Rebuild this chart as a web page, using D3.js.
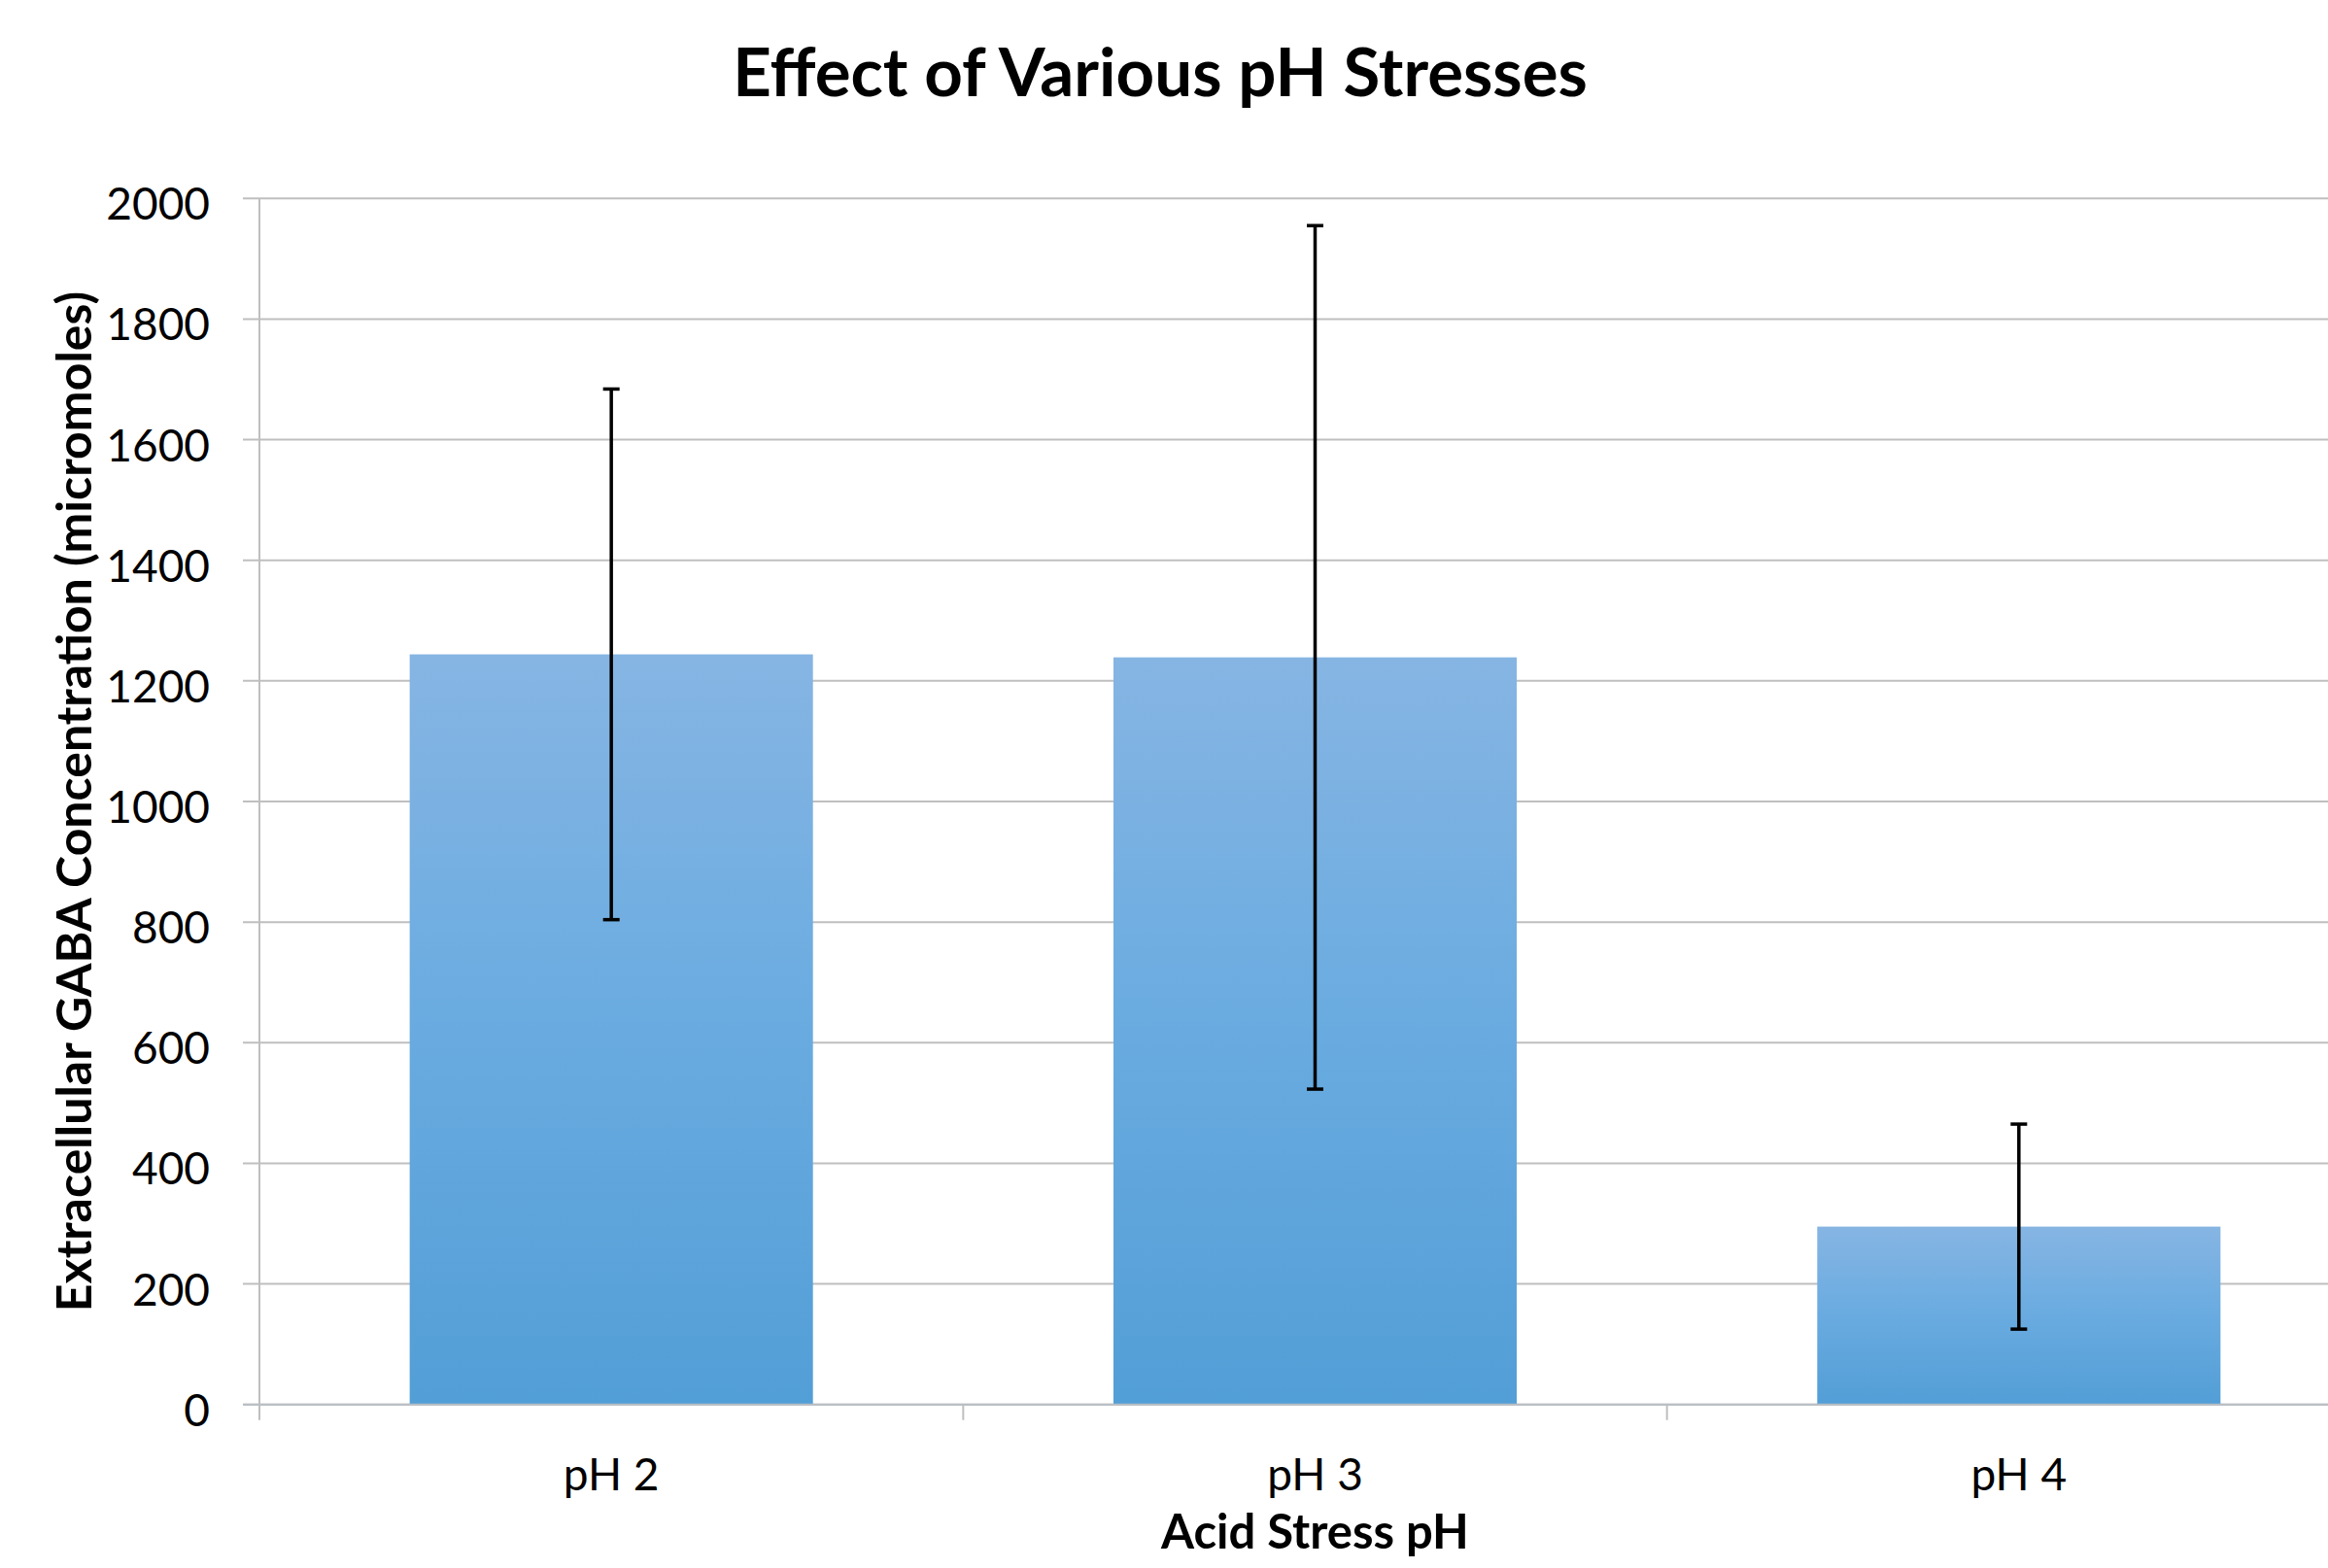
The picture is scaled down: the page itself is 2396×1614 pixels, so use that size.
<!DOCTYPE html>
<html>
<head>
<meta charset="utf-8">
<script src="https://cdn.jsdelivr.net/npm/d3@7"></script>
<style>
  html, body { margin: 0; padding: 0; background: #ffffff; }
  svg { display: block; font-family: Lato, "Open Sans", sans-serif; }
</style>
</head>
<body>
<svg></svg>
<script>
var categories = ["pH 2", "pH 3", "pH 4"];
var means = [1244, 1239, 295];
var errors = [440, 716, 170];
var yTicks = [0, 200, 400, 600, 800, 1000, 1200, 1400, 1600, 1800, 2000];

var svgWidth = 2396;
var svgHeight = 1614;

var svg = d3.select("svg")
  .attr("width", svgWidth)
  .attr("height", svgHeight);

// plot area (right edge runs past the picture, as in the original)
var plotLeft = 267, plotRight = 2440, plotTop = 204.3, plotBottom = 1445.7;

var xScale = d3.scaleBand()
  .domain(categories)
  .range([plotLeft, plotRight])
  .padding(0);

var yScale = d3.scaleLinear()
  .domain([0, 2000])
  .range([plotBottom, plotTop]);

var barFrac = 0.573;
var barWidth = xScale.bandwidth() * barFrac;

// gradient fill for bars
var grad = svg.append("defs").append("linearGradient")
  .attr("id", "barGrad")
  .attr("x1", 0).attr("y1", 0)
  .attr("x2", 0).attr("y2", 1);
grad.append("stop").attr("offset", "0%").attr("stop-color", "#86b5e3");
grad.append("stop").attr("offset", "50%").attr("stop-color", "#69abe0");
grad.append("stop").attr("offset", "100%").attr("stop-color", "#529ed6");

// gridlines + y ticks
svg.append("g")
  .selectAll("line")
  .data(yTicks)
  .enter()
  .append("line")
  .attr("x1", plotLeft - 17)
  .attr("x2", svgWidth)
  .attr("y1", function(d) { return yScale(d); })
  .attr("y2", function(d) { return yScale(d); })
  .attr("stroke", "#bfbfbf")
  .attr("stroke-width", 2);

// y axis line
svg.append("line")
  .attr("x1", plotLeft).attr("x2", plotLeft)
  .attr("y1", plotTop).attr("y2", plotBottom + 16)
  .attr("stroke", "#bfbfbf")
  .attr("stroke-width", 2);

// x ticks at band edges
svg.append("g")
  .selectAll("line")
  .data(categories.slice(1))
  .enter()
  .append("line")
  .attr("x1", function(d) { return xScale(d); })
  .attr("x2", function(d) { return xScale(d); })
  .attr("y1", plotBottom)
  .attr("y2", plotBottom + 16)
  .attr("stroke", "#bfbfbf")
  .attr("stroke-width", 2);

// bars
svg.append("g")
  .selectAll("rect")
  .data(means)
  .enter()
  .append("rect")
  .attr("x", function(d, i) {
    return xScale(categories[i]) + (xScale.bandwidth() - barWidth) / 2;
  })
  .attr("y", function(d) { return yScale(d); })
  .attr("width", barWidth)
  .attr("height", function(d) { return yScale(0) - yScale(d); })
  .attr("fill", "url(#barGrad)");

// zero line over the bars
svg.append("line")
  .attr("x1", plotLeft - 17).attr("x2", svgWidth)
  .attr("y1", yScale(0)).attr("y2", yScale(0))
  .attr("stroke", "#b8bec4")
  .attr("stroke-width", 2);

// error bars
var eb = svg.append("g")
  .selectAll("g")
  .data(means)
  .enter()
  .append("g")
  .attr("stroke", "#000000")
  .attr("stroke-width", 3.5);

eb.append("line")
  .attr("x1", function(d, i) { return xScale(categories[i]) + xScale.bandwidth() / 2; })
  .attr("x2", function(d, i) { return xScale(categories[i]) + xScale.bandwidth() / 2; })
  .attr("y1", function(d, i) { return yScale(d + errors[i]); })
  .attr("y2", function(d, i) { return yScale(d - errors[i]); });

[1, -1].forEach(function(sign) {
  eb.append("line")
    .attr("x1", function(d, i) { return xScale(categories[i]) + xScale.bandwidth() / 2 - 8.5; })
    .attr("x2", function(d, i) { return xScale(categories[i]) + xScale.bandwidth() / 2 + 8.5; })
    .attr("y1", function(d, i) { return yScale(d + sign * errors[i]); })
    .attr("y2", function(d, i) { return yScale(d + sign * errors[i]); });
});

// y tick labels
svg.append("g")
  .selectAll("text")
  .data(yTicks)
  .enter()
  .append("text")
  .text(function(d) { return d; })
  .attr("x", 216)
  .attr("y", function(d) { return yScale(d) + 22; })
  .attr("text-anchor", "end")
  .attr("font-size", 46)
  .attr("fill", "#000000");

// x tick labels
svg.append("g")
  .selectAll("text")
  .data(categories)
  .enter()
  .append("text")
  .text(function(d) { return d; })
  .attr("x", function(d) { return xScale(d) + xScale.bandwidth() / 2; })
  .attr("y", 1534)
  .attr("text-anchor", "middle")
  .attr("font-size", 46)
  .attr("fill", "#000000");

// titles
svg.append("text")
  .text("Effect of Various pH Stresses")
  .attr("x", 1194)
  .attr("y", 99)
  .attr("text-anchor", "middle")
  .attr("font-size", 69)
  .attr("font-weight", "bold");

svg.append("text")
  .text("Acid Stress pH")
  .attr("x", (plotLeft + plotRight) / 2)
  .attr("y", 1594)
  .attr("text-anchor", "middle")
  .attr("font-size", 49)
  .attr("font-weight", "bold");

svg.append("text")
  .text("Extracellular GABA Concentration (micromoles)")
  .attr("transform", "translate(94," + (plotTop + plotBottom) / 2 + ") rotate(-90)")
  .attr("text-anchor", "middle")
  .attr("font-size", 50)
  .attr("font-weight", "bold");
</script>
</body>
</html>
